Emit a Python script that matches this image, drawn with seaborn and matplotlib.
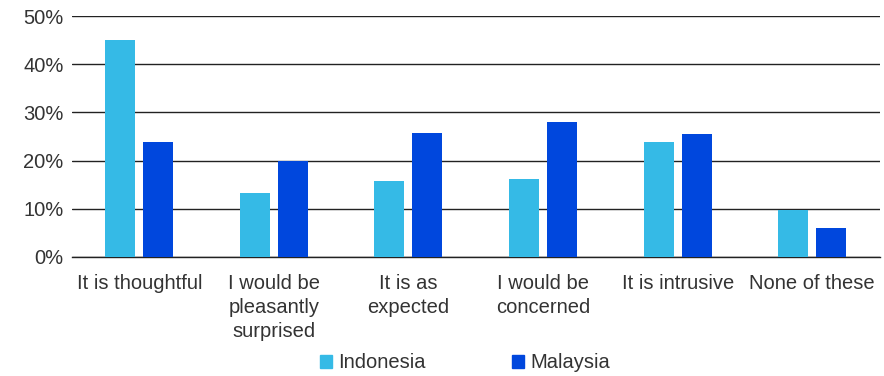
import numpy as np
import pandas as pd
import matplotlib.pyplot as plt
import seaborn as sns

# Survey answers and share of respondents per market
categories = ["It is thoughtful", "I would be\npleasantly\nsurprised", "It is as\nexpected",
              "I would be\nconcerned", "It is intrusive", "None of these"]
indonesia = [45.0, 13.3, 15.8, 16.2, 23.9, 9.7]
malaysia = [23.9, 19.9, 25.7, 28.0, 25.6, 6.1]
series = ["Indonesia", "Malaysia"]
colors = ["#35BAE6", "#0047DD"]

df = pd.DataFrame({
    "answer": categories * 2,
    "market": [series[0]] * 6 + [series[1]] * 6,
    "value": indonesia + malaysia,
})

sns.set_style("white")
plt.rcParams["font.family"] = ["Liberation Sans", "DejaVu Sans"]

fig = plt.figure(figsize=(8.84, 3.76), dpi=100)
ax = fig.add_axes([0.0814, 0.3165, 0.9136, 0.6405])

sns.barplot(data=df, x="answer", y="value", hue="market", palette=colors,
            saturation=1, linewidth=0, width=0.565, gap=0.21, ax=ax,
            legend=True, zorder=3)

ax.set_ylim(0, 50)
ax.set_yticks(range(0, 51, 10))
ax.set_yticklabels([f"{t}%" for t in range(0, 51, 10)])
ax.yaxis.grid(True, color="#222222", linewidth=1, zorder=0)
ax.set_axisbelow(True)
for s in ["left", "right", "top"]:
    ax.spines[s].set_visible(False)
ax.spines["bottom"].set_color("#222222")
ax.spines["bottom"].set_linewidth(1)
ax.set_xlim(-0.5, 5.5)
ax.set_xlabel("")
ax.set_ylabel("")
ax.tick_params(axis="both", length=0, labelsize=14.5, labelcolor="#333333")
ax.tick_params(axis="y", pad=6)
ax.tick_params(axis="x", pad=12)
for lbl in ax.get_xticklabels():
    lbl.set_linespacing(1.36)

ax.get_legend().remove()
handles = [plt.Rectangle((0, 0), 1, 1, color=c) for c in colors]
fig.legend(handles, series, loc="center", bbox_to_anchor=(0.526, 0.035), ncol=2,
           frameon=False, fontsize=14.5, handlelength=0.6, handleheight=0.6,
           handletextpad=0.3, columnspacing=4.3, labelcolor="#333333")

fig.savefig("out.png", dpi=100)
